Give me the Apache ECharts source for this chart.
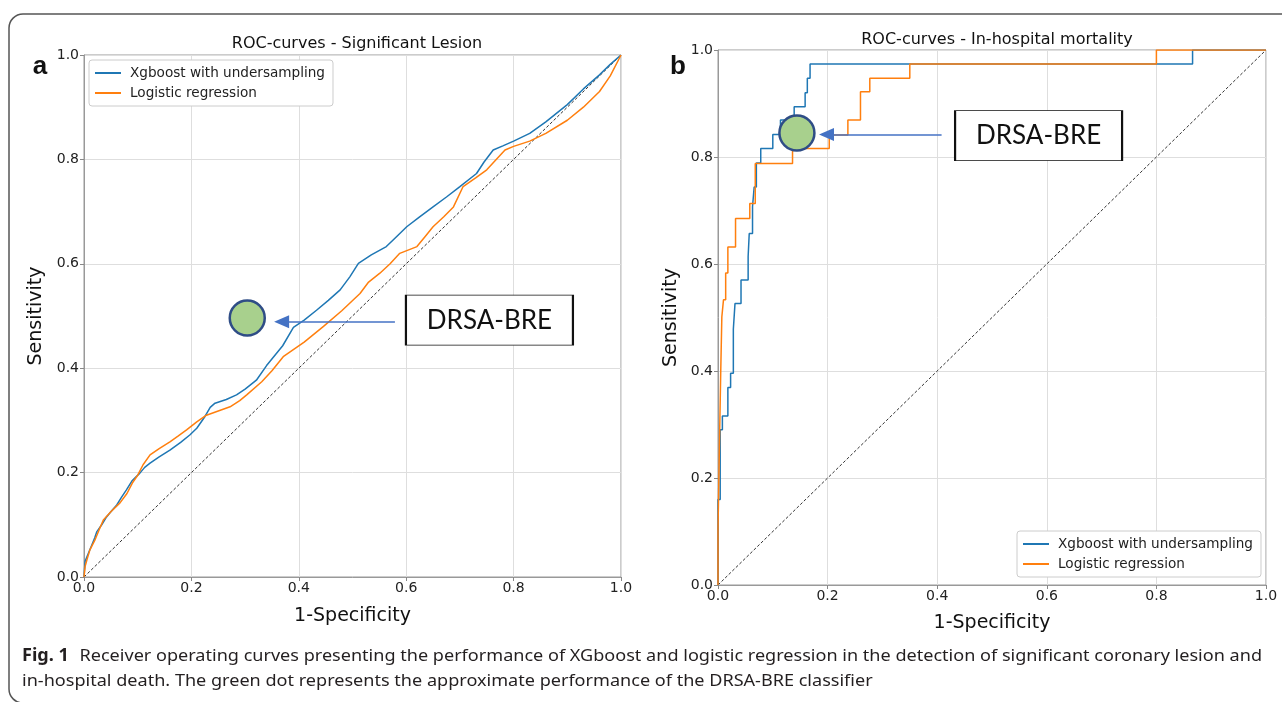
<!DOCTYPE html>
<html>
<head>
<meta charset="utf-8">
<script src="https://cdn.jsdelivr.net/npm/echarts@6/dist/echarts.min.js"></script>
<style>
html,body{margin:0;padding:0;background:#fff;}
#c{width:1282px;height:702px;}
</style>
</head>
<body>
<div id="c"></div>
<script>
// ---------- DATA ----------
const seriesNames = ['Xgboost with undersampling', 'Logistic regression'];
const tickLabels = ['0.0', '0.2', '0.4', '0.6', '0.8', '1.0'];
const titleLesion = 'ROC-curves - Significant Lesion';
const titleMortality = 'ROC-curves - In-hospital mortality';

// Panel a: [1-specificity, sensitivity]
const lesionXgb = [
  [0,0],[0.002,0.03],[0.008,0.045],[0.014,0.06],[0.02,0.075],[0.024,0.087],[0.033,0.1],[0.042,0.115],
  [0.05,0.125],[0.061,0.138],[0.07,0.153],[0.079,0.167],[0.09,0.185],[0.104,0.199],[0.113,0.21],
  [0.123,0.218],[0.14,0.23],[0.16,0.243],[0.18,0.258],[0.197,0.272],[0.21,0.285],[0.225,0.307],
  [0.235,0.325],[0.244,0.333],[0.265,0.34],[0.284,0.349],[0.3,0.36],[0.321,0.377],[0.34,0.405],
  [0.37,0.443],[0.39,0.478],[0.41,0.492],[0.433,0.511],[0.455,0.53],[0.477,0.55],[0.495,0.575],
  [0.511,0.601],[0.535,0.617],[0.563,0.633],[0.58,0.65],[0.601,0.671],[0.625,0.69],[0.65,0.709],
  [0.675,0.728],[0.7,0.748],[0.731,0.773],[0.745,0.795],[0.762,0.818],[0.78,0.826],[0.8,0.835],
  [0.83,0.85],[0.86,0.872],[0.9,0.905],[0.93,0.935],[0.96,0.962],[0.98,0.982],[1,1]
];
const lesionLogit = [
  [0,0],[0.002,0.02],[0.006,0.035],[0.011,0.052],[0.02,0.07],[0.028,0.09],[0.036,0.109],[0.05,0.125],
  [0.067,0.142],[0.08,0.16],[0.09,0.18],[0.1,0.195],[0.11,0.215],[0.123,0.234],[0.14,0.246],
  [0.16,0.259],[0.175,0.27],[0.191,0.282],[0.21,0.297],[0.228,0.31],[0.25,0.318],[0.272,0.326],
  [0.29,0.338],[0.303,0.349],[0.331,0.374],[0.35,0.395],[0.371,0.422],[0.41,0.45],[0.446,0.48],
  [0.48,0.51],[0.514,0.543],[0.53,0.565],[0.551,0.582],[0.57,0.6],[0.588,0.62],[0.62,0.633],
  [0.635,0.652],[0.65,0.671],[0.67,0.69],[0.688,0.709],[0.706,0.748],[0.73,0.765],[0.75,0.78],
  [0.784,0.818],[0.8,0.825],[0.83,0.835],[0.86,0.85],[0.9,0.875],[0.93,0.9],[0.96,0.93],
  [0.98,0.96],[1,1]
];

// Panel b
const mortalityXgb = [
  [0,0],[0,0.16],[0.004,0.16],[0.004,0.29],[0.008,0.29],[0.008,0.316],[0.018,0.316],[0.018,0.369],
  [0.023,0.369],[0.023,0.396],[0.028,0.396],[0.028,0.478],[0.031,0.478],[0.031,0.526],[0.042,0.526],
  [0.042,0.57],[0.055,0.57],[0.055,0.614],[0.057,0.614],[0.057,0.657],[0.063,0.657],[0.063,0.707],
  [0.066,0.707],[0.066,0.744],[0.07,0.744],[0.07,0.789],[0.078,0.789],[0.078,0.816],[0.1,0.816],
  [0.1,0.842],[0.114,0.842],[0.114,0.869],[0.139,0.869],[0.139,0.894],[0.159,0.894],[0.159,0.92],
  [0.163,0.92],[0.163,0.947],[0.168,0.947],[0.168,0.974],[0.866,0.974],[0.866,1],[1,1]
];
const mortalityLogit = [
  [0,0],[0,0.103],[0.003,0.103],[0.003,0.284],[0.005,0.284],[0.005,0.399],[0.007,0.399],[0.007,0.501],
  [0.01,0.501],[0.01,0.533],[0.014,0.533],[0.014,0.583],[0.018,0.583],[0.018,0.632],[0.032,0.632],
  [0.032,0.685],[0.058,0.685],[0.058,0.713],[0.068,0.713],[0.068,0.788],[0.136,0.788],[0.136,0.816],
  [0.203,0.816],[0.203,0.841],[0.237,0.841],[0.237,0.869],[0.26,0.869],[0.26,0.922],[0.277,0.922],
  [0.277,0.947],[0.35,0.947],[0.35,0.974],[0.8,0.974],[0.8,1],[1,1]
];

const chanceLine = [[0,0],[1,1]];

// DRSA-BRE annotation (data coordinates)
const drsaLabel = 'DRSA-BRE';
const drsaLesion = [0.304, 0.496];
const drsaLesionArrow = [[0.579, 0.489], [0.368, 0.489]];
const drsaLesionBox = [0.755, 0.492];
const drsaMortality = [0.144, 0.845];
const drsaMortalityArrow = [[0.408, 0.842], [0.198, 0.842]];
const drsaMortalityBox = [0.585, 0.840];

const captionBold = 'Fig. 1';
const captionLine1 = 'Receiver operating curves presenting the performance of XGboost and logistic regression in the detection of significant coronary lesion and';
const captionLine2 = 'in-hospital death. The green dot represents the approximate performance of the DRSA-BRE classifier';

// ---------- STYLE ----------
const BLUE = '#1f77b4', ORANGE = '#ff7f0e';
const FONT = 'DejaVu Sans';

function axisCommon(name, gap, isX) {
  return {
    type: 'value', min: 0, max: 1, interval: 0.2,
    name: name, nameLocation: 'middle', nameGap: gap,
    nameTextStyle: {fontFamily: FONT, fontSize: 19, color: '#111'},
    axisLine: {show: true, onZero: false, lineStyle: {color: '#999', width: 1}},
    axisTick: {show: true, length: 4, lineStyle: {color: '#888'}},
    axisLabel: {
      fontFamily: FONT, fontSize: 14, color: '#222', margin: isX ? 4 : 5,
      formatter: v => tickLabels[Math.round(v / 0.2)]
    },
    splitLine: {show: true, lineStyle: {color: '#dedede', width: 1}}
  };
}

function rocLine(name, data, color, idx) {
  return {
    name: name, type: 'line', xAxisIndex: idx, yAxisIndex: idx, data: data,
    showSymbol: false, symbol: 'none', silent: true, animation: false,
    lineStyle: {color: color, width: 1.5}, itemStyle: {color: color}, z: 3
  };
}

function diag(idx) {
  return {
    name: 'chance', type: 'line', xAxisIndex: idx, yAxisIndex: idx, data: chanceLine,
    showSymbol: false, symbol: 'none', silent: true, animation: false,
    lineStyle: {color: '#333', width: 1, type: [3, 2]}, z: 2
  };
}

function drsa(idx, pt, arrow, box) {
  return {
    name: 'DRSA', type: 'scatter', xAxisIndex: idx, yAxisIndex: idx,
    data: [pt], symbolSize: 35, silent: true, animation: false, z: 5,
    itemStyle: {color: '#a8d08d', borderColor: '#2f4d86', borderWidth: 2.5, opacity: 1},
    markLine: {
      silent: true, animation: false, symbol: ['none', 'triangle'], symbolSize: [13, 15],
      label: {show: false},
      lineStyle: {color: '#4472c4', width: 1.5, type: 'solid'},
      data: [[{coord: arrow[0]}, {coord: arrow[1]}]]
    },
    markPoint: {
      silent: true, animation: false, symbol: 'rect', symbolSize: [167, 50],
      itemStyle: {color: '#fff', borderColor: '#111', borderWidth: 1.2},
      label: {show: true, position: 'inside', formatter: drsaLabel, color: '#111',
              fontFamily: 'Lato', fontSize: 26},
      data: [{coord: box}]
    }
  };
}

const legendBase = {
  orient: 'vertical', icon: 'rect', itemWidth: 26, itemHeight: 2, itemGap: 6,
  data: seriesNames, selectedMode: false,
  backgroundColor: '#fff', borderColor: '#ccc', borderWidth: 1, borderRadius: 3,
  padding: [6, 8, 6, 6],
  textStyle: {fontFamily: FONT, fontSize: 13.6, color: '#222', padding: [0, 0, 0, 4]}
};

const chart = echarts.init(document.getElementById('c'), null, {renderer: 'canvas'});

const option = {
  animation: false,
  backgroundColor: '#fff',
  title: [
    {text: titleLesion, left: 352, top: 31, textAlign: 'center',
     textStyle: {fontFamily: FONT, fontSize: 16, fontWeight: 'normal', color: '#111'}},
    {text: titleMortality, left: 992, top: 27, textAlign: 'center',
     textStyle: {fontFamily: FONT, fontSize: 16, fontWeight: 'normal', color: '#111'}},
    {text: 'a', left: 35, top: 49, textAlign: 'center',
     textStyle: {fontFamily: 'Liberation Sans', fontSize: 26, fontWeight: 'bold', color: '#111'}},
    {text: 'b', left: 673, top: 49, textAlign: 'center',
     textStyle: {fontFamily: 'Liberation Sans', fontSize: 26, fontWeight: 'bold', color: '#111'}}
  ],
  legend: [
    Object.assign({}, legendBase, {left: 89, top: 60}),
    Object.assign({}, legendBase, {left: 1017, top: 531})
  ],
  grid: [
    {left: 84, top: 55, width: 537, height: 522, show: true, borderColor: '#999', borderWidth: 1, backgroundColor: 'transparent'},
    {left: 718, top: 50, width: 548, height: 535, show: true, borderColor: '#999', borderWidth: 1, backgroundColor: 'transparent'}
  ],
  xAxis: [
    Object.assign(axisCommon('1-Specificity', 30, true), {gridIndex: 0}),
    Object.assign(axisCommon('1-Specificity', 29, true), {gridIndex: 1})
  ],
  yAxis: [
    Object.assign(axisCommon('Sensitivity', 38, false), {gridIndex: 0}),
    Object.assign(axisCommon('Sensitivity', 37, false), {gridIndex: 1})
  ],
  series: [
    diag(0),
    rocLine(seriesNames[0], lesionXgb, BLUE, 0),
    rocLine(seriesNames[1], lesionLogit, ORANGE, 0),
    drsa(0, drsaLesion, drsaLesionArrow, drsaLesionBox),
    diag(1),
    rocLine(seriesNames[0], mortalityXgb, BLUE, 1),
    rocLine(seriesNames[1], mortalityLogit, ORANGE, 1),
    drsa(1, drsaMortality, drsaMortalityArrow, drsaMortalityBox)
  ]
};
chart.setOption(option);

// ---------- Caption & frame ----------
function measure(txt, font) {
  const ctx = document.createElement('canvas').getContext('2d');
  ctx.font = font;
  return ctx.measureText(txt).width;
}
const CAP_FONT = 'Noto Sans';
const CAP_SIZE = 17;
const wBold = measure(captionBold, 'bold ' + CAP_SIZE + 'px "' + CAP_FONT + '"');
const gap = 10;
const wRest = measure(captionLine1, CAP_SIZE + 'px "' + CAP_FONT + '"');
const targetW = 1240;
const sx = targetW / (wBold + gap + wRest);

chart.setOption({
  graphic: [
    {type: 'rect', silent: true, z: -1,
     shape: {x: 9, y: 14, width: 1400, height: 689, r: 14},
     style: {fill: 'none', stroke: '#555', lineWidth: 1.5}},
    {type: 'group', x: 22, y: 0, scaleX: sx, silent: true, children: [
      {type: 'text', x: 0, y: 656, style: {text: captionBold, font: 'bold ' + CAP_SIZE + 'px "' + CAP_FONT + '"', fill: '#231f20', verticalAlign: 'middle'}},
      {type: 'text', x: wBold + gap, y: 656, style: {text: captionLine1, font: CAP_SIZE + 'px "' + CAP_FONT + '"', fill: '#231f20', verticalAlign: 'middle'}},
      {type: 'text', x: 0, y: 681, style: {text: captionLine2, font: CAP_SIZE + 'px "' + CAP_FONT + '"', fill: '#231f20', verticalAlign: 'middle'}}
    ]}
  ]
});
</script>
</body>
</html>
